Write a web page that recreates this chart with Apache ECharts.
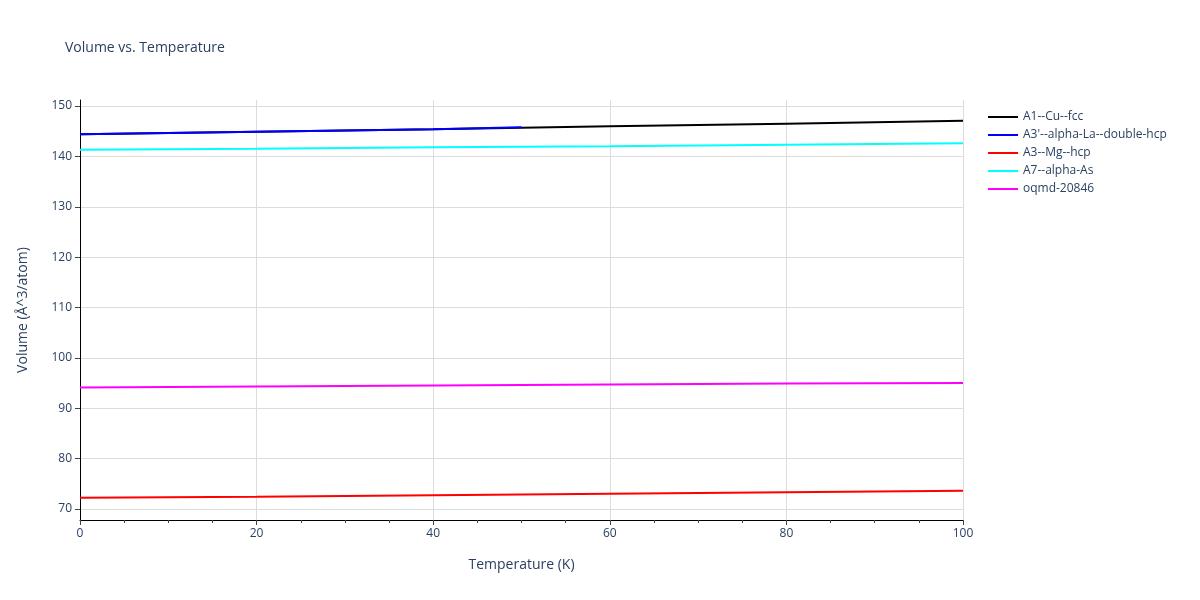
<!DOCTYPE html>
<html>
<head>
<meta charset="UTF-8" />
<script src="https://cdn.jsdelivr.net/npm/echarts@6/dist/echarts.min.js"></script>
</head>
<body style="margin:0">
<div id="main" style="width:1200px;height:600px;"></div>
<script>
// data
var temps = [0, 20, 40, 60, 80, 100];
var cuFcc = [144.4, 144.9, 145.4, 146.0, 146.5, 147.1];
var laDhcp = [[0, 144.4], [20, 144.9], [40, 145.4], [50, 145.8]];
var mgHcp = [72.2, 72.4, 72.7, 73.0, 73.3, 73.6];
var alphaAs = [141.3, 141.5, 141.8, 142.0, 142.3, 142.6];
var oqmd = [94.1, 94.3, 94.5, 94.7, 94.9, 95.0];
var yTicks = [70, 80, 90, 100, 110, 120, 130, 140, 150];

function pairs(ys) { return temps.map(function (t, i) { return [t, ys[i]]; }); }

var myChart = echarts.init(document.getElementById('main'));
var axisText = { color: '#2a3f5f', fontFamily: 'Open Sans, sans-serif', fontSize: 12 };
var series = [
  ['A1--Cu--fcc', '#000000', pairs(cuFcc)],
  ["A3'--alpha-La--double-hcp", '#0000ff', laDhcp],
  ['A3--Mg--hcp', '#ff0000', pairs(mgHcp)],
  ['A7--alpha-As', '#00ffff', pairs(alphaAs)],
  ['oqmd-20846', '#ff00ff', pairs(oqmd)]
].map(function (s) {
  return { name: s[0], type: 'line', data: s[2], showSymbol: false, color: s[1],
    lineStyle: { width: 2, color: s[1] }, z: 3 };
});

myChart.setOption({
  backgroundColor: '#fff',
  animation: false,
  title: { text: 'Volume vs. Temperature', left: 60, top: 36,
    textStyle: { color: '#2a3f5f', fontWeight: 'normal', fontSize: 14, fontFamily: 'Open Sans, sans-serif' } },
  legend: { orient: 'vertical', left: 983, top: 106, itemGap: 6, itemWidth: 30, itemHeight: 13,
    icon: 'path://M0,6 L30,6 L30,8 L0,8 Z',
    textStyle: { color: '#2a3f5f', fontSize: 12, fontFamily: 'Open Sans, sans-serif' } },
  grid: { left: 80, right: 237, top: 100, bottom: 80 },
  xAxis: {
    type: 'value', min: 0, max: 100, interval: 20,
    name: 'Temperature (K)', nameLocation: 'middle', nameGap: 38,
    nameTextStyle: { color: '#2a3f5f', fontSize: 14, fontFamily: 'Open Sans, sans-serif' },
    axisLine: { show: true, onZero: false, lineStyle: { color: '#000' } },
    axisTick: { show: true, length: 5, lineStyle: { color: '#444' } },
    minorTick: { show: true, splitNumber: 4, length: 3, lineStyle: { color: '#444' } },
    axisLabel: axisText,
    splitLine: { show: true, lineStyle: { color: '#dcdcdc' } }
  },
  yAxis: {
    type: 'value', min: 67.8, max: 151.2,
    name: 'Volume (Å^3/atom)', nameLocation: 'middle', nameGap: 50,
    nameTextStyle: { color: '#2a3f5f', fontSize: 14, fontFamily: 'Open Sans, sans-serif' },
    axisLine: { show: true, lineStyle: { color: '#000' } },
    axisTick: { show: true, length: 5, customValues: yTicks, lineStyle: { color: '#444' } },
    axisLabel: Object.assign({ customValues: yTicks }, axisText),
    splitLine: { show: true, lineStyle: { color: '#dcdcdc' } }
  },
  series: series
});
</script>
</body>
</html>
